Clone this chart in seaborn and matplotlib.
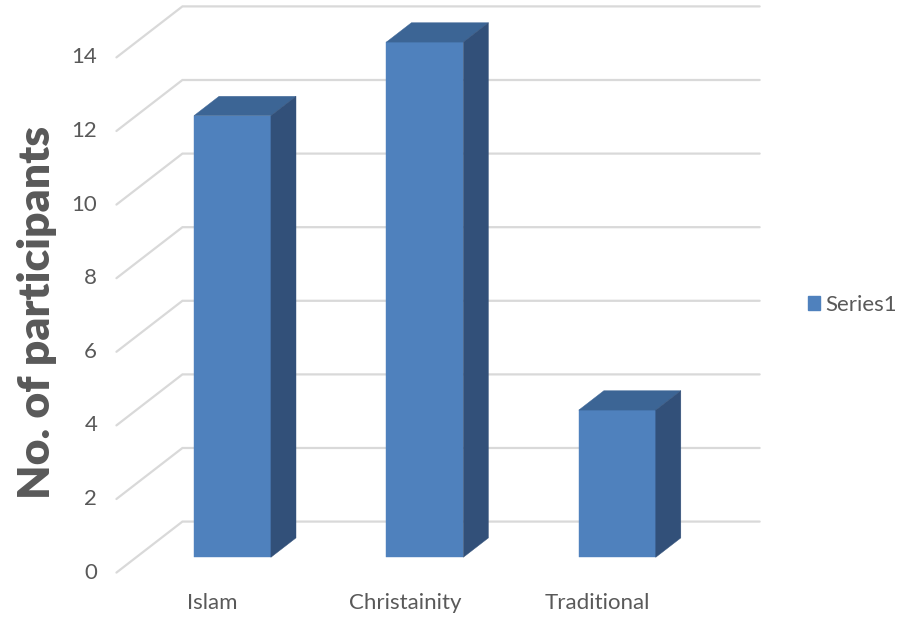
import matplotlib
matplotlib.use("Agg")
import matplotlib.pyplot as plt
from matplotlib.patches import Polygon, Patch
import seaborn as sns
import numpy as np

# Data
categories = ["Islam", "Christainity", "Traditional"]
participants = [12, 14, 4]
y_ticks = [0, 2, 4, 6, 8, 10, 12, 14]
series_name = "Series1"
y_label = "No. of participants"

# Colours
FRONT = "#4F81BD"
TOP = "#3C6595"
SIDE = "#325079"
GRID = "#D9D9D9"
TEXT = "#595959"

sns.set_theme(style="white")
plt.rcParams["font.family"] = ["Lato", "DejaVu Sans"]

fig = plt.figure(figsize=(9.03, 6.19), dpi=100)
ax = fig.add_axes([0, 0, 1, 1])

# Oblique projection: depth vector (front -> back) in data units,
# bars sit at a fractional depth inside the floor
DX, DY = 0.343, 1.386
BAR_FRONT = 0.30      # bar front plane depth fraction
BAR_DEPTH = 0.38      # bar depth fraction
WALL_L, WALL_R = -0.5, len(categories) - 0.5
BAR_W = 0.40
LABEL_SIZE = 16

def at_depth(x, y, t):
    """Point (x, y) in the bar plane moved to depth fraction t."""
    s = t - BAR_FRONT
    return x + s * DX, y + s * DY

# Gridlines: diagonal on the left side wall + horizontal on the back wall
for v in y_ticks:
    fx, fy = at_depth(WALL_L, v, 0.0)
    bx, by = at_depth(WALL_L, v, 1.0)
    rx, ry = at_depth(WALL_R, v, 1.0)
    ax.plot([fx, bx, rx], [fy, by, ry], color=GRID, lw=1.6,
            solid_joinstyle="miter", zorder=1)
    ax.text(fx - 0.10, fy, str(v), ha="right", va="center",
            fontsize=LABEL_SIZE, color=TEXT)

# Front faces of the bars
sns.barplot(x=categories, y=participants, color=FRONT, width=BAR_W,
            saturation=1, ax=ax, zorder=3, edgecolor=FRONT, linewidth=0.3)

# Top and side faces derived from each drawn bar
ddx, ddy = BAR_DEPTH * DX, BAR_DEPTH * DY
for bar in ax.patches:
    x0 = bar.get_x()
    w = bar.get_width()
    h = bar.get_height()
    x1 = x0 + w
    top = Polygon([(x0, h), (x1, h), (x1 + ddx, h + ddy), (x0 + ddx, h + ddy)],
                  closed=True, facecolor=TOP, edgecolor=TOP, lw=0.3, zorder=3)
    side = Polygon([(x1, 0), (x1 + ddx, ddy), (x1 + ddx, h + ddy), (x1, h)],
                   closed=True, facecolor=SIDE, edgecolor=SIDE, lw=0.3, zorder=3)
    ax.add_patch(top)
    ax.add_patch(side)

# Category labels on the front edge of the floor
for i, name in enumerate(categories):
    lx, ly = at_depth(i, 0, 0.0)
    ax.text(lx, ly - 0.83, name, ha="center", va="center",
            fontsize=LABEL_SIZE, color=TEXT)

# Axis title
fig.text(37 / 903, 1 - 312 / 619, y_label, rotation=90, ha="center",
         va="center", fontsize=32, fontweight="heavy", color=TEXT)

# Legend
fig.legend(handles=[Patch(facecolor=FRONT, edgecolor=FRONT, label=series_name)],
           loc="center left", bbox_to_anchor=(808 / 903, 1 - 305 / 619),
           frameon=False, fontsize=LABEL_SIZE, handlelength=0.55, handleheight=0.55,
           handletextpad=0.25, borderpad=0, borderaxespad=0, labelcolor=TEXT)

ax.set_xlim(-1.208, 3.485)
ax.set_ylim(-1.677, 15.144)
ax.set_axis_off()

fig.savefig("out.png", dpi=100)
